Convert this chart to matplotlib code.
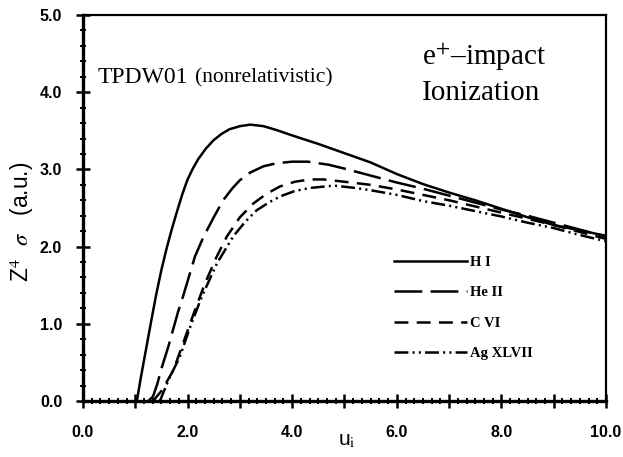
import numpy as np
import matplotlib
matplotlib.use('Agg')
import matplotlib.pyplot as plt
from matplotlib.ticker import MultipleLocator

plt.rcParams['lines.scale_dashes'] = False
plt.rcParams['mathtext.fontset'] = 'stix'

# positron-impact ionization cross sections
u_h = [1.03, 1.1, 1.2, 1.3, 1.4, 1.5, 1.6, 1.7, 1.8, 1.9, 2.0, 2.1, 2.2, 2.35, 2.5, 2.65, 2.8, 3.0,
       3.2, 3.45, 3.7, 4.0, 4.5, 5.0, 5.5, 6.0, 6.5, 7.0, 7.5, 8.0, 8.5, 9.0, 9.5, 10.0]
s_h = [0.0, 0.28, 0.65, 1.02, 1.38, 1.70, 1.98, 2.23, 2.46, 2.68, 2.87, 3.01, 3.13, 3.27, 3.38, 3.46, 3.52, 3.56,
       3.58, 3.56, 3.51, 3.44, 3.33, 3.21, 3.09, 2.94, 2.81, 2.70, 2.60, 2.49, 2.38, 2.28, 2.21, 2.14]

u_he = [1.25, 1.34, 1.42, 1.5, 1.63, 1.82, 1.92, 2.14, 2.3, 2.5, 2.68, 2.85, 3.0, 3.2, 3.45, 3.7,
        4.0, 4.3, 4.7, 5.0, 5.5, 6.0, 6.5, 7.0, 7.5, 8.0, 8.5, 9.0, 9.5, 10.0]
s_he = [0.0, 0.06, 0.22, 0.42, 0.70, 1.16, 1.37, 1.87, 2.12, 2.38, 2.60, 2.75, 2.86, 2.96, 3.04, 3.08,
        3.10, 3.10, 3.06, 3.01, 2.92, 2.83, 2.75, 2.66, 2.57, 2.48, 2.40, 2.31, 2.22, 2.13]

u_c = [1.34, 1.5, 1.73, 1.92, 2.11, 2.33, 2.55, 2.75, 3.0, 3.26, 3.5, 3.77, 4.05, 4.34, 4.6, 5.0,
       5.5, 6.0, 6.5, 7.0, 7.5, 8.0, 8.5, 9.0, 9.5, 10.0]
s_c = [0.0, 0.13, 0.40, 0.76, 1.12, 1.52, 1.86, 2.13, 2.38, 2.56, 2.68, 2.78, 2.84, 2.87, 2.87, 2.84,
       2.80, 2.74, 2.67, 2.60, 2.52, 2.44, 2.36, 2.28, 2.19, 2.10]

u_ag = [1.47, 1.66, 1.85, 2.05, 2.27, 2.56, 2.87, 3.1, 3.32, 3.55, 3.77, 4.05, 4.34, 4.8,
        5.2, 5.5, 6.0, 6.5, 7.0, 7.5, 8.0, 8.5, 9.0, 9.5, 10.0]
s_ag = [0.0, 0.31, 0.57, 0.96, 1.35, 1.78, 2.13, 2.32, 2.47, 2.57, 2.65, 2.72, 2.76, 2.79,
        2.76, 2.73, 2.67, 2.59, 2.53, 2.46, 2.39, 2.31, 2.24, 2.15, 2.07]

labels = ['H I', 'He II', 'C VI', 'Ag XLVII']

fig = plt.figure(figsize=(6.23, 4.57), dpi=100)
ax = fig.add_axes([0.1332, 0.1225, 0.8395, 0.8447])

ax.plot(u_h, s_h, color='black', lw=1.8, label=labels[0])
ax.plot(u_he, s_he, color='black', lw=1.8, dashes=(20, 6), label=labels[1])
ax.plot(u_c, s_c, color='black', lw=1.8, dashes=(10, 6), label=labels[2])
ax.plot(u_ag, s_ag, color='black', lw=1.8, dashes=(10, 3, 1.5, 3, 1.5, 3), label=labels[3])

ax.set_xlim(0, 10)
ax.set_ylim(0, 5)
ax.xaxis.set_minor_locator(MultipleLocator(1 / 6))
ax.yaxis.set_minor_locator(MultipleLocator(0.2))

tf = dict(family='Liberation Sans', weight='bold', size=11.5)
xt = np.arange(0, 10.1, 1.0)
ax.set_xticks(xt)
ax.set_xticklabels(['%.1f' % v if i % 2 == 0 else '' for i, v in enumerate(xt)], fontdict=tf)
yt = np.arange(0, 5.1, 1.0)
ax.set_yticks(yt)
ax.set_yticklabels(['%.1f' % v for v in yt], fontdict=tf)

ax.tick_params(axis='x', which='major', direction='inout', length=10, width=1.8, pad=12)
ax.tick_params(axis='y', which='major', direction='inout', length=10, width=1.8, pad=10)
ax.tick_params(which='minor', direction='inout', length=5, width=1.4)

for side in ['left', 'bottom']:
    ax.spines[side].set_linewidth(2.4)
for side in ['top', 'right']:
    ax.spines[side].set_linewidth(1.6)

ax.set_ylabel(r'Z$^{4}$  $\sigma$   (a.u.)', fontsize=16.5, family='Liberation Sans')
ax.yaxis.set_label_coords(-0.09, 0.465)
ax.set_xlabel(r'u$_{\mathrm{i}}$', fontsize=15, family='Liberation Sans')
ax.xaxis.set_label_coords(0.505, -0.078)

ax.text(0.027, 0.825, 'TPDW01', transform=ax.transAxes, family='Liberation Serif', fontsize=17)
ax.text(0.215, 0.825, '(nonrelativistic)', transform=ax.transAxes, family='Liberation Serif', fontsize=15.5)
ax.text(0.648, 0.87, r'e$^{+}$–impact', transform=ax.transAxes, family='Liberation Serif', fontsize=21)
ax.text(0.648, 0.78, 'Ionization', transform=ax.transAxes, family='Liberation Serif', fontsize=21)

ax.legend(loc='upper left', bbox_to_anchor=(0.57, 0.41), frameon=False, handlelength=5.0,
          handletextpad=0.2, labelspacing=1.18, prop=dict(family='Liberation Serif', weight='bold', size=10.5))

fig.savefig('out.png', dpi=100)
